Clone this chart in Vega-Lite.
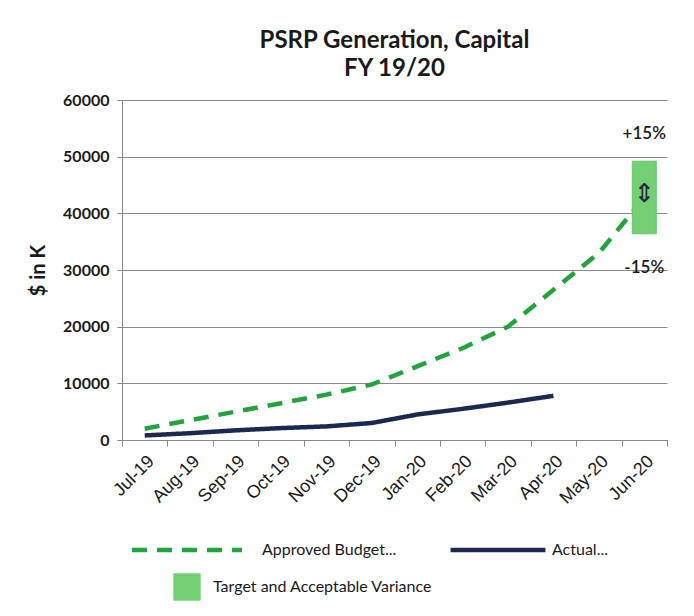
{
  "$schema": "https://vega.github.io/schema/vega-lite/v6.json",
  "autosize": {"type": "none"},
  "width": 545,
  "height": 340,
  "padding": {"left": 122, "top": 100, "right": 27, "bottom": 176},
  "background": "white",
  "title": {
    "text": ["PSRP Generation, Capital", "FY 19/20"],
    "font": "Lato",
    "fontSize": 24,
    "fontWeight": "bold",
    "color": "#1a1a1a",
    "lineHeight": 28,
    "offset": 11,
    "anchor": "middle"
  },
  "config": {
    "font": "Lato",
    "view": {"stroke": null}
  },
  "datasets": {
    "lines": [
      {"month": "Jul-19", "series": "Approved Budget...", "value": 2000},
      {"month": "Aug-19", "series": "Approved Budget...", "value": 3500},
      {"month": "Sep-19", "series": "Approved Budget...", "value": 5000},
      {"month": "Oct-19", "series": "Approved Budget...", "value": 6500},
      {"month": "Nov-19", "series": "Approved Budget...", "value": 8000},
      {"month": "Dec-19", "series": "Approved Budget...", "value": 9800},
      {"month": "Jan-20", "series": "Approved Budget...", "value": 13000},
      {"month": "Feb-20", "series": "Approved Budget...", "value": 16200},
      {"month": "Mar-20", "series": "Approved Budget...", "value": 20000},
      {"month": "Apr-20", "series": "Approved Budget...", "value": 26500},
      {"month": "May-20", "series": "Approved Budget...", "value": 33000},
      {"month": "Jun-20", "series": "Approved Budget...", "value": 42800},
      {"month": "Jul-19", "series": "Actual...", "value": 800},
      {"month": "Aug-19", "series": "Actual...", "value": 1200},
      {"month": "Sep-19", "series": "Actual...", "value": 1700},
      {"month": "Oct-19", "series": "Actual...", "value": 2100},
      {"month": "Nov-19", "series": "Actual...", "value": 2400},
      {"month": "Dec-19", "series": "Actual...", "value": 3000},
      {"month": "Jan-20", "series": "Actual...", "value": 4500},
      {"month": "Feb-20", "series": "Actual...", "value": 5500},
      {"month": "Mar-20", "series": "Actual...", "value": 6600},
      {"month": "Apr-20", "series": "Actual...", "value": 7800}
    ],
    "variance": [
      {"month": "Jun-20", "series": "Target and Acceptable Variance", "low": 36400, "high": 49200}
    ],
    "notes": [
      {"month": "Jun-20", "value": 54000, "label": "+15%"},
      {"month": "Jun-20", "value": 30300, "label": "-15%"}
    ],
    "arrow": [
      {"month": "Jun-20", "value": 43500, "label": "⇕"}
    ]
  },
  "layer": [
    {
      "data": {"name": "lines"},
      "mark": {"type": "line", "strokeWidth": 4.5, "strokeCap": "butt"},
      "encoding": {
        "x": {"field": "month", "type": "nominal"},
        "y": {"field": "value", "type": "quantitative"},
        "color": {"field": "series", "type": "nominal"},
        "strokeDash": {
          "field": "series", "type": "nominal",
          "scale": {
            "domain": ["Approved Budget...", "Actual...", "Target and Acceptable Variance"],
            "range": [[15, 10], [1, 0], [1, 0]]
          },
          "legend": null
        }
      }
    },
    {
      "data": {"name": "variance"},
      "mark": {"type": "bar", "width": 24, "stroke": "#6ac46a", "strokeWidth": 1},
      "encoding": {
        "x": {"field": "month", "type": "nominal"},
        "y": {"field": "low", "type": "quantitative"},
        "y2": {"field": "high"},
        "color": {"field": "series", "type": "nominal"}
      }
    },
    {
      "data": {"name": "arrow"},
      "mark": {"type": "text", "fontSize": 26, "font": "DejaVu Sans"},
      "encoding": {
        "x": {"field": "month", "type": "nominal"},
        "y": {"field": "value", "type": "quantitative"},
        "text": {"field": "label"},
        "color": {"value": "#2a2440"}
      }
    },
    {
      "data": {"name": "notes"},
      "mark": {"type": "text", "fontSize": 17, "font": "Lato", "fontWeight": 600},
      "encoding": {
        "x": {"field": "month", "type": "nominal"},
        "y": {"field": "value", "type": "quantitative"},
        "text": {"field": "label"},
        "color": {"value": "#1a1a1a"}
      }
    }
  ],
  "encoding": {
    "x": {
      "field": "month", "type": "nominal",
      "sort": ["Jul-19","Aug-19","Sep-19","Oct-19","Nov-19","Dec-19","Jan-20","Feb-20","Mar-20","Apr-20","May-20","Jun-20"],
      "scale": {"domain": ["Jul-19","Aug-19","Sep-19","Oct-19","Nov-19","Dec-19","Jan-20","Feb-20","Mar-20","Apr-20","May-20","Jun-20"], "paddingInner": 0, "paddingOuter": 0},
      "axis": {
        "title": null, "labelAngle": -45, "labelFontSize": 18, "labelFont": "Liberation Sans", "labelColor": "#1a1a1a",
        "tickBand": "extent", "domainColor": "#888", "tickColor": "#888",
        "tickSize": 6, "labelPadding": 6
      }
    },
    "y": {
      "type": "quantitative",
      "scale": {"domain": [0, 60000], "nice": false},
      "axis": {
        "title": "$ in K", "titleFont": "Lato", "titleFontSize": 20, "titleFontWeight": "bold", "titleColor": "#1a1a1a",
        "titlePadding": 14,
        "values": [0, 10000, 20000, 30000, 40000, 50000, 60000],
        "format": "d", "labelFont": "Lato", "labelFontSize": 16, "labelColor": "#1a1a1a", "labelFontWeight": "bold",
        "grid": true, "gridColor": "#8a8a8a", "domainColor": "#888", "tickColor": "#888",
        "tickSize": 5, "labelPadding": 8
      }
    },
    "color": {
      "field": "series", "type": "nominal",
      "scale": {
        "domain": ["Approved Budget...", "Actual...", "Target and Acceptable Variance"],
        "range": ["#23a33c", "#1d2852", "#74d074"]
      },
      "legend": {
        "title": null, "orient": "bottom", "direction": "horizontal", "columns": 2,
        "labelFontSize": 16, "labelFont": "Lato", "labelColor": "#1a1a1a", "labelLimit": 400,
        "columnPadding": -35, "rowPadding": 12, "offset": 34,
        "symbolType": "stroke", "symbolSize": 12100, "symbolStrokeWidth": 4.5,
        "symbolOffset": 57, "labelOffset": 67,
        "encode": {
          "labels": {
            "update": {
              "dx": {"signal": "datum.value === 'Target and Acceptable Variance' ? -49 : (datum.value === 'Actual...' ? -21 : 0)"}
            }
          },
          "symbols": {
            "update": {
              "shape": {"signal": "datum.value === 'Target and Acceptable Variance' ? 'square' : 'stroke'"},
              "size": {"signal": "datum.value === 'Target and Acceptable Variance' ? 700 : (datum.value === 'Actual...' ? 9000 : 12100)"},
              "fill": {"signal": "datum.value === 'Target and Acceptable Variance' ? '#74d074' : 'transparent'"},
              "stroke": {"signal": "datum.value === 'Target and Acceptable Variance' ? '#5aa85a' : (datum.value === 'Actual...' ? '#1d2852' : '#23a33c')"},
              "strokeWidth": {"signal": "datum.value === 'Target and Acceptable Variance' ? 1 : 4.5"},
              "strokeDash": {"signal": "datum.value === 'Approved Budget...' ? [15, 10] : [1, 0]"}
            }
          }
        }
      }
    }
  }
}
